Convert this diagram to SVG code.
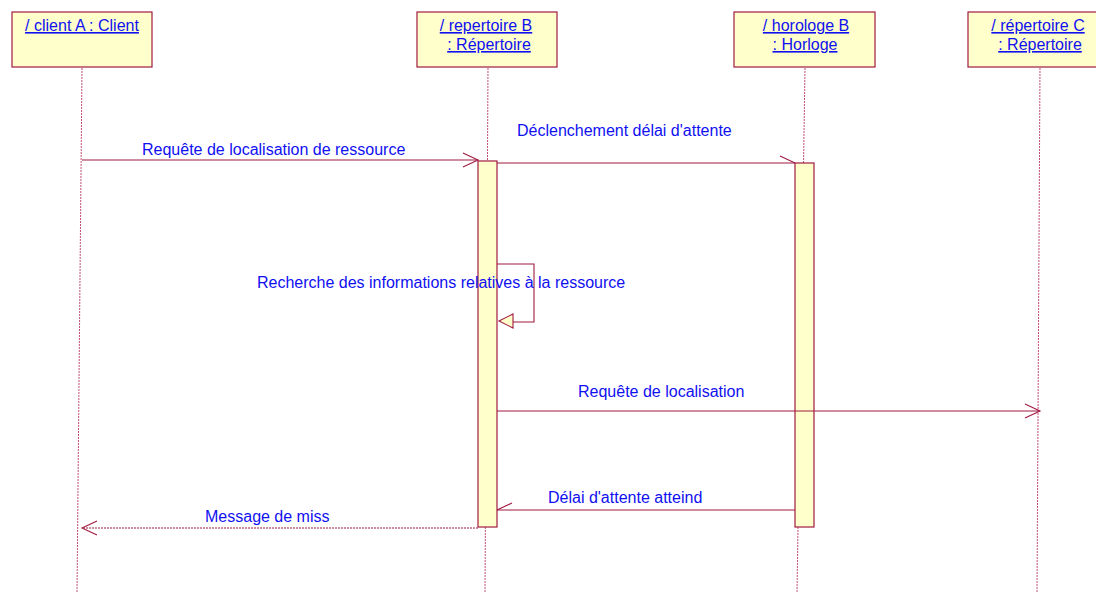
<svg xmlns="http://www.w3.org/2000/svg" width="1096" height="593" viewBox="0 0 1096 593">
<style>
.box{fill:#FFFFCC;stroke:#A01A40;stroke-width:1.2}
.act{fill:#FFFFCC;stroke:#A01A40;stroke-width:1.2}
.life{stroke:#C05070;stroke-width:1;stroke-dasharray:2,1;fill:none}
.msg{stroke:#A01A40;stroke-width:1.1;fill:none}
.dash{stroke:#A01A40;stroke-width:1.1;fill:none;stroke-dasharray:2,1}
.t{font-family:"Liberation Sans",Arial,sans-serif;font-size:16px;fill:#1010F0}
.n{font-family:"Liberation Sans",Arial,sans-serif;font-size:16px;fill:#1010F0;text-decoration:underline;text-anchor:middle}
</style>
<defs>
<marker id="open" markerWidth="18" markerHeight="16" refX="16" refY="8" orient="auto" markerUnits="userSpaceOnUse">
<path d="M1,1 L16,8 L1,15" fill="none" stroke="#A01A40" stroke-width="1.1"/>
</marker>
<marker id="half" markerWidth="18" markerHeight="16" refX="16" refY="8" orient="auto" markerUnits="userSpaceOnUse">
<path d="M1,1 L16,8" fill="none" stroke="#A01A40" stroke-width="1.1"/>
</marker>
<marker id="halfL" markerWidth="18" markerHeight="16" refX="16" refY="8" orient="auto" markerUnits="userSpaceOnUse">
<path d="M1,15 L16,8" fill="none" stroke="#A01A40" stroke-width="1.1"/>
</marker>
</defs>
<rect width="1096" height="593" fill="#FFFFFF"/>
<g id="lifelines">
<line class="life" x1="82" y1="68" x2="77" y2="593"/>
<line class="life" x1="488" y1="68" x2="485" y2="593"/>
<line class="life" x1="805" y1="68" x2="797" y2="593"/>
<line class="life" x1="1040" y1="68" x2="1037" y2="593"/>
</g>
<g id="clientA">
<rect class="box" x="12" y="12" width="140" height="55"/>
<text class="n" x="82" y="31">/ client A : Client</text>
</g>
<g id="repertoireB">
<rect class="box" x="417" y="12" width="140" height="55"/>
<text class="n" x="486" y="31">/ repertoire B</text>
<text class="n" x="489" y="50">: Répertoire</text>
</g>
<g id="horologeB">
<rect class="box" x="734" y="12" width="141" height="55"/>
<text class="n" x="806" y="31">/ horologe B</text>
<text class="n" x="805" y="50">: Horloge</text>
</g>
<g id="repertoireC">
<rect class="box" x="968" y="12" width="140" height="55"/>
<text class="n" x="1038" y="31">/ répertoire C</text>
<text class="n" x="1040" y="50">: Répertoire</text>
</g>
<g id="activations">
<rect class="act" x="478" y="161" width="19" height="366"/>
<rect class="act" x="795" y="163" width="19" height="364"/>
</g>
<g id="connectors">
<line class="msg" x1="82" y1="160" x2="478" y2="160" marker-end="url(#open)"/>
<line class="msg" x1="497" y1="163" x2="795" y2="163" marker-end="url(#half)"/>
<polyline class="msg" points="497,264 534,264 534,322 513,322"/>
<polygon points="499,321 513,314 513,328" fill="#FFFFCC" stroke="#A01A40" stroke-width="1.1"/>
<line class="msg" x1="497" y1="411" x2="1040" y2="411" marker-end="url(#open)"/>
<line class="msg" x1="795" y1="510" x2="497" y2="510" marker-end="url(#halfL)"/>
<line class="dash" x1="478" y1="528" x2="82" y2="528" marker-end="url(#open)"/>
</g>
<g id="labels">
<text class="t" x="142" y="155">Requête de localisation de ressource</text>
<text class="t" x="517" y="136">Déclenchement délai d'attente</text>
<text class="t" x="257" y="288">Recherche des informations relatives à la ressource</text>
<text class="t" x="578" y="397">Requête de localisation</text>
<text class="t" x="548" y="503">Délai d'attente atteind</text>
<text class="t" x="205" y="522">Message de miss</text>
</g>
</svg>
